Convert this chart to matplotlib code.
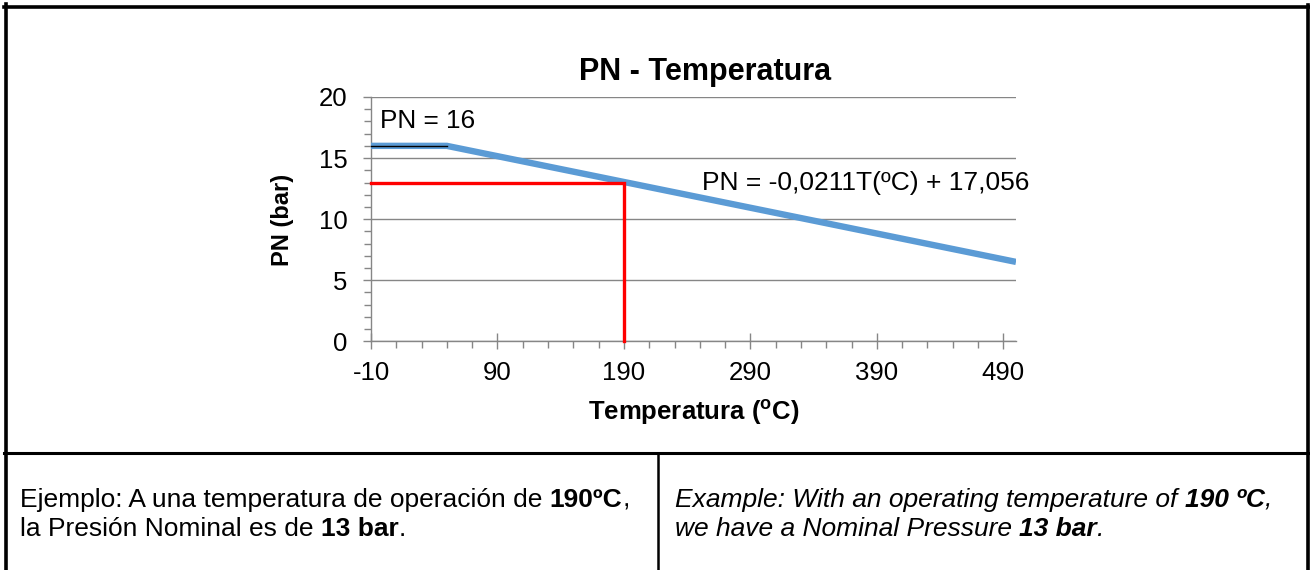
import matplotlib
matplotlib.use("Agg")
import matplotlib.pyplot as plt
from matplotlib.ticker import MultipleLocator, FixedLocator
from matplotlib.lines import Line2D

plt.rcParams['font.family'] = ['Liberation Sans', 'DejaVu Sans']
plt.rcParams['mathtext.fontset'] = 'custom'
plt.rcParams['mathtext.rm'] = 'Liberation Sans'
plt.rcParams['mathtext.bf'] = 'Liberation Sans:bold'
plt.rcParams['mathtext.it'] = 'Liberation Sans:italic'
plt.rcParams['axes.unicode_minus'] = False

# ---- data ----
curve_T = [-10, 50, 500]
curve_PN = [16, 16, 6.5]
pn16_T = [-10, 50]
pn16_PN = [16, 16]
op_T = 190
op_PN = 13
x_ticks = [-10, 90, 190, 290, 390, 490]
y_ticks = [0, 5, 10, 15, 20]
title = "PN - Temperatura"
xlabel = "Temperatura ($^{\\mathbf{o}}$C)"
ylabel = "PN (bar)"
label_pn16 = "PN = 16"
label_eq = "PN = -0,0211T(ºC) + 17,056"

W, H = 1310, 570
fig = plt.figure(figsize=(W / 100, H / 100), dpi=100)

def fx(px):
    return px / W

def fy(py):
    return 1 - py / H

# ---- chart ----
ax = fig.add_axes([fx(371), fy(341.3), fx(1016) - fx(371), fy(97) - fy(341.3)])
ax.set_xlim(-10, 500)
ax.set_ylim(0, 20)
grey = '#868686'
for s in ['top', 'right']:
    ax.spines[s].set_visible(False)
for s in ['left', 'bottom']:
    ax.spines[s].set_color(grey)
    ax.spines[s].set_linewidth(1.0)
ax.xaxis.set_major_locator(FixedLocator(x_ticks))
ax.xaxis.set_minor_locator(FixedLocator(list(range(-10, 501, 20))))
ax.yaxis.set_major_locator(FixedLocator(y_ticks))
ax.yaxis.set_minor_locator(MultipleLocator(1))
ax.tick_params(axis='x', which='major', direction='inout', length=12, color=grey, width=1,
               labelsize=18.5, pad=8.5)
ax.tick_params(axis='x', which='minor', direction='out', length=5, color=grey, width=1)
ax.tick_params(axis='y', which='major', direction='out', length=6, color=grey, width=1,
               labelsize=18.5, pad=11)
ax.tick_params(axis='y', which='minor', direction='out', length=5, color=grey, width=1)
ax.grid(axis='y', which='major', color=grey, linewidth=1.0)
ax.set_axisbelow(True)

ax.plot(curve_T, curve_PN, color='#5b9bd5', linewidth=4.6, solid_capstyle='butt', zorder=3)
ax.plot(pn16_T, pn16_PN, color='black', linewidth=1.0, zorder=4)
ax.plot([curve_T[0], op_T, op_T], [op_PN, op_PN, 0], color='#ff0000', linewidth=2.4,
        solid_capstyle='projecting', solid_joinstyle='miter', clip_on=False, zorder=4)

ax.text(-2.5, 18, label_pn16, fontsize=18.8, va='center', ha='left')
ax.text(252, 13, label_eq, fontsize=19, va='center', ha='left')

fig.text(fx(705), fy(72), title, fontsize=22, fontweight='bold', ha='center', va='center')
fig.text(fx(694), fy(412), xlabel, fontsize=18.5, fontweight='bold', ha='center', va='center')
fig.text(fx(283), fy(220), ylabel, fontsize=17, fontweight='bold', ha='center', va='center',
         rotation=90)

# ---- table borders ----
lw_b = 2.6
fig.add_artist(Line2D([fx(5.5), fx(5.5)], [fy(4), fy(570)], color='black', linewidth=lw_b))
fig.add_artist(Line2D([fx(1308), fx(1308)], [fy(5), fy(570)], color='black', linewidth=lw_b))
fig.add_artist(Line2D([fx(4), fx(1310)], [fy(7), fy(7)], color='black', linewidth=lw_b))
fig.add_artist(Line2D([fx(4), fx(1310)], [fy(453), fy(453)], color='black', linewidth=2.2))
fig.add_artist(Line2D([fx(657.5), fx(657.5)], [fy(453), fy(570)], color='black', linewidth=1.8))

# ---- rich text rows ----
tax = fig.add_axes([0, 0, 1, 1])
tax.axis('off')
tax.set_xlim(0, 1)
tax.set_ylim(0, 1)

def rich(x, y, parts, size=19):
    prev = None
    for s, weight, style in parts:
        if prev is None:
            prev = tax.text(x, y, s, fontsize=size, fontweight=weight, style=style,
                            ha='left', va='bottom', transform=fig.transFigure)
        else:
            prev = tax.annotate(s, xy=(1, 0), xycoords=prev, fontsize=size,
                                fontweight=weight, style=style, ha='left', va='bottom')

row1_left = [("Ejemplo: A una temperatura de operación de ", 'normal', 'normal'),
             ("190ºC", 'bold', 'normal'), (",", 'normal', 'normal')]
row2_left = [("la Presión Nominal es de ", 'normal', 'normal'),
             ("13 bar", 'bold', 'normal'), (".", 'normal', 'normal')]
row1_right = [("Example: With an operating temperature of ", 'normal', 'italic'),
              ("190 ºC", 'bold', 'italic'), (",", 'normal', 'italic')]
row2_right = [("we have a Nominal Pressure ", 'normal', 'italic'),
              ("13 bar", 'bold', 'italic'), (".", 'normal', 'italic')]

rich(fx(20), fy(512), row1_left)
rich(fx(20), fy(541), row2_left)
rich(fx(675), fy(512), row1_right)
rich(fx(675), fy(541), row2_right)

fig.savefig("out.png", dpi=100)
